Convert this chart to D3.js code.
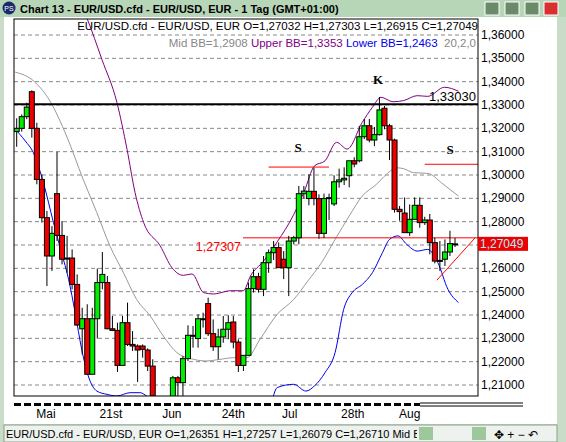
<!DOCTYPE html>
<html>
<head>
<script src="https://d3js.org/d3.v7.min.js"></script>
<style>body{margin:0;background:#fff;font-family:"Liberation Sans",sans-serif}</style>
</head>
<body>
<script>
// OHLC per trading day, [open, high, low, close]
var candles = [
 [1.3186,1.3243,1.3121,1.3200],[1.3200,1.3260,1.3186,1.3250],[1.3250,1.3310,1.3239,1.3291],[1.3357,1.3363,1.3160,1.3200],
 [1.3200,1.3224,1.2960,1.2981],[1.2981,1.3003,1.2796,1.2817],[1.2817,1.2846,1.2524,1.2653],[1.2653,1.2781,1.2589,1.2750],
 [1.2920,1.3099,1.2717,1.2741],[1.2741,1.2803,1.2617,1.2639],[1.2644,1.2739,1.2581,1.2641],[1.2644,1.2681,1.2510,1.2531],
 [1.2531,1.2574,1.2353,1.2357],[1.2341,1.2431,1.2231,1.2384],[1.2384,1.2446,1.2146,1.2146],[1.2146,1.2431,1.2146,1.2384],
 [1.2384,1.2599,1.2299,1.2539],[1.2539,1.2670,1.2510,1.2574],[1.2539,1.2567,1.2339,1.2341],[1.2341,1.2396,1.2331,1.2334],
 [1.2334,1.2367,1.2156,1.2184],[1.2184,1.2396,1.2184,1.2367],[1.2367,1.2453,1.2267,1.2274],[1.2274,1.2331,1.2246,1.2267],
 [1.2267,1.2274,1.2113,1.2250],[1.2267,1.2274,1.2217,1.2253],[1.2250,1.2257,1.2160,1.2181],[1.2181,1.2210,1.2040,1.2053],
 [1.2040,1.2050,1.1990,1.2010],[1.2010,1.2045,1.1980,1.2000],[1.2000,1.2040,1.1985,1.2030],
 [1.2030,1.2139,1.2010,1.2131],[1.2131,1.2139,1.2050,1.2110],[1.2110,1.2224,1.2053,1.2213],[1.2213,1.2356,1.2203,1.2313],
 [1.2309,1.2353,1.2260,1.2313],[1.2299,1.2403,1.2260,1.2384],[1.2380,1.2410,1.2346,1.2384],[1.2449,1.2474,1.2310,1.2320],
 [1.2320,1.2381,1.2246,1.2264],[1.2264,1.2341,1.2210,1.2306],[1.2306,1.2396,1.2281,1.2339],[1.2339,1.2399,1.2296,1.2367],
 [1.2370,1.2396,1.2257,1.2284],[1.2284,1.2296,1.2156,1.2184],[1.2184,1.2227,1.2160,1.2227],[1.2227,1.2539,1.2224,1.2513],
 [1.2513,1.2596,1.2496,1.2564],[1.2564,1.2581,1.2496,1.2510],[1.2510,1.2653,1.2481,1.2624],[1.2624,1.2681,1.2581,1.2667],
 [1.2667,1.2717,1.2636,1.2689],[1.2689,1.2711,1.2620,1.2603],[1.2639,1.2674,1.2554,1.2603],[1.2603,1.2739,1.2481,1.2717],
 [1.2717,1.2739,1.2703,1.2731],[1.2731,1.2953,1.2703,1.2920],[1.2920,1.2953,1.2899,1.2931],[1.2899,1.3003,1.2870,1.2930],
 [1.2930,1.3031,1.2870,1.2899],[1.2899,1.2917,1.2727,1.2750],[1.2750,1.2920,1.2730,1.2899],[1.2899,1.2920,1.2807,1.2903],
 [1.2876,1.2999,1.2867,1.2971],[1.2971,1.3027,1.2946,1.2979],[1.2979,1.3033,1.2957,1.2986],[1.2997,1.3047,1.2947,1.3061],
 [1.3061,1.3076,1.3033,1.3047],[1.3061,1.3211,1.3054,1.3164],[1.3164,1.3240,1.3154,1.3211],[1.3211,1.3240,1.3140,1.3150],
 [1.3150,1.3206,1.3124,1.3173],[1.3173,1.3334,1.3169,1.3279],[1.3286,1.3296,1.3196,1.3211],[1.3211,1.3219,1.3064,1.3150],
 [1.3150,1.3156,1.2839,1.2853],[1.2853,1.2867,1.2804,1.2843],[1.2837,1.2904,1.2753,1.2753],[1.2753,1.2874,1.2739,1.2810],
 [1.2810,1.2904,1.2810,1.2870],[1.2870,1.2904,1.2774,1.2796],[1.2796,1.2821,1.2786,1.2807],[1.2807,1.2833,1.2660,1.2710],
 [1.2710,1.2731,1.2621,1.2631],[1.2631,1.2717,1.2589,1.2634],[1.2639,1.2724,1.2610,1.2670],[1.2670,1.2761,1.2653,1.2706],
 [1.27032,1.27303,1.26915,1.27049]
];
// Bollinger bands, [candle index, value]
var upperBB = [[13,1.372],[14,1.3669],[16.9,1.3496],[19.9,1.3310],[21.9,1.3110],[23.5,1.2924],[25.2,1.2796],[28.5,1.2696],[30.8,1.2603],
 [33.1,1.2570],[34.8,1.2576],[37.1,1.2496],[39.1,1.2490],[42.4,1.2504],[45,1.2504],[46.4,1.2567],[49,1.2631],[51.7,1.2713],
 [55,1.2831],[57.1,1.2931],[59.1,1.3039],[61.2,1.3061],[63.5,1.3140],[65.6,1.3111],[68.6,1.3226],[70.6,1.3290],[72.3,1.3333],
 [74.7,1.3314],[76.8,1.3319],[79.5,1.3340],[81.6,1.3337],[84.9,1.3376],[87.7,1.3359]];
var midBB = [[-0.3,1.3441],[3.3,1.3404],[6.6,1.3317],[9.9,1.3167],[13.2,1.2981],[15.9,1.2839],[18.5,1.2696],[21.2,1.2581],[23.8,1.2467],
 [26.5,1.2396],[29.1,1.2310],[31.8,1.2239],[35.1,1.2210],[37.7,1.2203],[40.4,1.2210],[43,1.2217],[45.7,1.2217],[48.3,1.2296],[51.7,1.2403],
 [55,1.2467],[57.8,1.2546],[60.5,1.2624],[63.2,1.2724],[66,1.2824],[68.6,1.2910],[71.4,1.2960],[73.4,1.3003],[75.4,1.3031],[76.8,1.3027],
 [78.8,1.3010],[81.6,1.3007],[84.3,1.2967],[86.4,1.2931],[87.7,1.2910]];
var lowerBB = [[-0.3,1.3196],[1.7,1.3146],[3.3,1.3096],[5.3,1.2967],[7.3,1.2796],[8.9,1.2667],[10.3,1.2553],[11.6,1.2410],[12.9,1.2253],
 [14.2,1.2139],[15.9,1.2074],[17.9,1.2060],[19.9,1.2053],[22.5,1.2067],[24.5,1.2067],[25.8,1.2053],[30,1.198],[40,1.194],[50,1.200],
 [51.7,1.2089],[55,1.2103],[57.4,1.2074],[59.1,1.2096],[61.2,1.2153],[63.2,1.2239],[64.9,1.2424],[66.6,1.2496],[68.6,1.2531],[70.6,1.2581],
 [72.6,1.2667],[74,1.2724],[75.7,1.2739],[77.4,1.2703],[79.5,1.2674],[81.6,1.2681],[83.6,1.2624],[85.6,1.2510],[87.7,1.2453]];
var yTicks = [1.21,1.22,1.23,1.24,1.25,1.26,1.27,1.28,1.29,1.30,1.31,1.32,1.33,1.34,1.35,1.36];
var timeLabels = [["Mai",5.8],["21st",18.7],["Jun",30.8],["24th",43],["Jul",54.2],["28th",66.7],["Aug",78]];
var resistance = 1.33030, support = 1.27307, lastClose = 1.27049;
var sLines = [[50,62,1.3034],[81.0,92,1.3046]];
var trend = [[83.4,1.2549],[91,1.2731]];

var W = 566, H = 442, L = 14, R = 478, T = 19, B = 396;
var fmt = function(v) { return d3.format(".5f")(v).replace(".", ","); };
var svg = d3.select("body").append("svg").attr("width", W).attr("height", H)
  .style("font-family", "'Liberation Sans', sans-serif");

// window frame
svg.append("rect").attr("width", W).attr("height", H).attr("fill", "#c8dcc8");
svg.append("rect").attr("x", 0).attr("y", 0).attr("width", W).attr("height", 17).attr("fill", "#b7d5b7");
svg.append("rect").attr("x", 4).attr("y", 17).attr("width", 553).attr("height", 407).attr("fill", "#fff");
svg.append("text").attr("x", 20).attr("y", 12.5).attr("font-size", 11).attr("font-weight", "bold").text("Chart 13 - EUR/USD.cfd - EUR/USD, EUR - 1 Tag (GMT+01:00)");
svg.append("circle").attr("cx", 9).attr("cy", 8).attr("r", 6.5).attr("fill", "#1a2a6a");
svg.append("text").attr("x", 9).attr("y", 11).attr("font-size", 7).attr("fill", "#fff").attr("text-anchor", "middle").text("PS");
[[493,"#6a8a6a"],[513,"#6a8a6a"],[533,"#6a8a6a"],[552,"#d83030"]].forEach(function(b) {
  svg.append("rect").attr("x", b[0] - 8).attr("y", 2).attr("width", 14).attr("height", 13).attr("fill", b[1]).attr("stroke", "#fff");
});

var x = d3.scaleLinear().domain([0, 87]).range([16.7, 455]);
var y = d3.scaleLinear().domain([1.21, 1.36]).range([385, 35]);

svg.append("defs").append("clipPath").attr("id", "plot").append("rect")
  .attr("x", L).attr("y", T).attr("width", R - L).attr("height", B - T);
var g = svg.append("g").attr("clip-path", "url(#plot)");

g.selectAll("line.grid").data(yTicks).enter().append("line")
  .attr("x1", L).attr("x2", R).attr("y1", d => y(d)).attr("y2", d => y(d))
  .attr("stroke", "#888").attr("stroke-dasharray", "4,3");

var line = d3.line().x(d => x(d[0])).y(d => y(d[1])).curve(d3.curveMonotoneX);
g.append("path").attr("d", line(midBB)).attr("fill", "none").attr("stroke", "#999");
g.append("path").attr("d", line(upperBB)).attr("fill", "none").attr("stroke", "#800080");
g.append("path").attr("d", line(lowerBB)).attr("fill", "none").attr("stroke", "#0000ee");

g.append("line").attr("x1", L).attr("x2", R).attr("y1", y(resistance)).attr("y2", y(resistance)).attr("stroke", "#000").attr("stroke-width", 2);
g.append("line").attr("x1", 243).attr("x2", R).attr("y1", y(support)).attr("y2", y(support)).attr("stroke", "red");
sLines.forEach(function(s) {
  g.append("line").attr("x1", x(s[0])).attr("x2", x(s[1])).attr("y1", y(s[2])).attr("y2", y(s[2])).attr("stroke", "red");
});
g.append("line").attr("x1", x(trend[0][0])).attr("y1", y(trend[0][1])).attr("x2", x(trend[1][0])).attr("y2", y(trend[1][1])).attr("stroke", "red");

var c = g.selectAll("g.c").data(candles).enter().append("g");
c.append("line").attr("x1", (d, i) => x(i)).attr("x2", (d, i) => x(i))
  .attr("y1", d => y(d[1])).attr("y2", d => y(d[2])).attr("stroke", "#000");
c.append("rect").attr("x", (d, i) => x(i) - 2.5).attr("width", 5)
  .attr("y", d => y(Math.max(d[0], d[3])))
  .attr("height", d => Math.max(1, Math.abs(y(d[0]) - y(d[3]))))
  .attr("fill", d => d[3] >= d[0] ? "#00ee00" : "#ee0000").attr("stroke", "#000");

// annotations
[["K", 378, 84], ["S", 298, 152], ["S", 450, 154]].forEach(function(a) {
  svg.append("text").attr("x", a[1]).attr("y", a[2]).attr("font-size", 13).attr("font-weight", "bold")
    .attr("text-anchor", "middle").attr("font-family", "'Liberation Serif', serif").text(a[0]);
});
svg.append("text").attr("x", 241).attr("y", y(support) + 13).attr("font-size", 12.5).attr("fill", "red").attr("text-anchor", "end").text(fmt(support));
svg.append("text").attr("x", 476).attr("y", y(resistance) - 3).attr("font-size", 13).attr("text-anchor", "end").text(fmt(resistance));

svg.append("text").attr("x", 478).attr("y", 30).attr("font-size", 11.5).attr("text-anchor", "end")
  .text("EUR/USD.cfd - EUR/USD, EUR O=1,27032 H=1,27303 L=1,26915 C=1,27049");
var bb = svg.append("text").attr("x", 476).attr("y", 47).attr("font-size", 11.5).attr("text-anchor", "end").attr("xml:space", "preserve");
bb.append("tspan").attr("fill", "#888").text("Mid BB=1,2908 ");
bb.append("tspan").attr("fill", "#800080").text("Upper BB=1,3353 ");
bb.append("tspan").attr("fill", "#0000ee").text("Lower BB=1,2463 ");
bb.append("tspan").attr("fill", "#888").text(" 20,2,0");

svg.append("rect").attr("x", L).attr("y", T).attr("width", R - L).attr("height", B - T).attr("fill", "none").attr("stroke", "#000");

// price axis
svg.selectAll("text.yt").data(yTicks).enter().append("text")
  .attr("x", 481).attr("y", d => y(d) + 4).attr("font-size", 12).text(fmt);
svg.append("rect").attr("x", 478).attr("y", y(lastClose) - 7).attr("width", 50).attr("height", 14).attr("fill", "#ee0000");
svg.append("text").attr("x", 480).attr("y", y(lastClose) + 4.5).attr("font-size", 12).attr("fill", "#aaf0ff").text(fmt(lastClose));

// time axis
svg.append("line").attr("x1", L).attr("x2", 420).attr("y1", 404.5).attr("y2", 404.5).attr("stroke", "#000").attr("stroke-width", 3).attr("stroke-dasharray", "7,3");
svg.append("line").attr("x1", 420).attr("x2", 523).attr("y1", 403).attr("y2", 403).attr("stroke", "#000");
svg.append("line").attr("x1", 420).attr("x2", 523).attr("y1", 406).attr("y2", 406).attr("stroke", "#000");
svg.selectAll("text.xt").data(timeLabels).enter().append("text")
  .attr("x", d => x(d[1])).attr("y", 418).attr("font-size", 12).attr("text-anchor", "middle").text(d => d[0]);

// status bar
svg.append("rect").attr("x", 4).attr("y", 425).attr("width", 553).attr("height", 17).attr("fill", "#eef2ee").attr("stroke", "#8aa08a");
svg.append("defs").append("clipPath").attr("id", "status").append("rect").attr("x", 4).attr("y", 425).attr("width", 413).attr("height", 17);
svg.append("text").attr("x", 6).attr("y", 438).attr("font-size", 11).attr("clip-path", "url(#status)")
  .text("EUR/USD.cfd - EUR/USD, EUR O=1,26351 H=1,27257 L=1,26079 C=1,26710  Mid BB");
svg.append("rect").attr("x", 419).attr("y", 427).attr("width", 14).attr("height", 13).attr("fill", "#9cc89c");
svg.append("rect").attr("x", 472).attr("y", 427).attr("width", 14).attr("height", 13).attr("fill", "#9cc89c");
svg.append("text").attr("x", 494).attr("y", 439).attr("font-size", 12).text("✥  +  −  ↶");
</script>
</body>
</html>
